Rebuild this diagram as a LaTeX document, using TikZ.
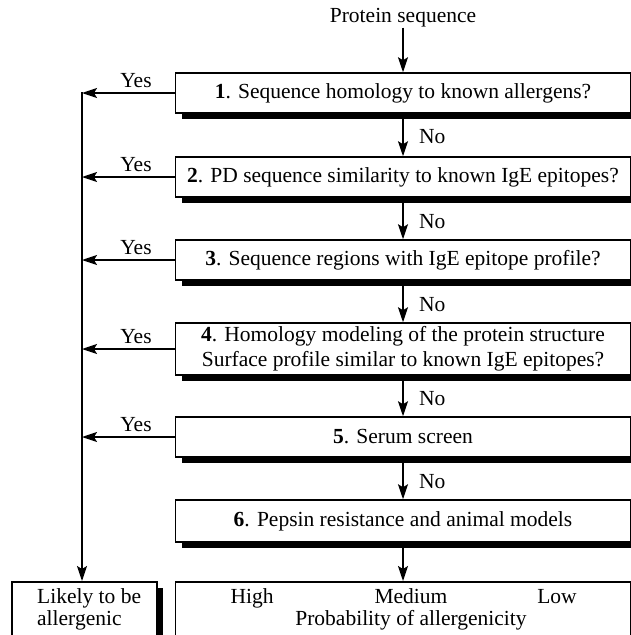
\documentclass[tikz,border=0pt]{standalone}
\usepackage{fontspec}
\setmainfont{Liberation Serif}
\usetikzlibrary{arrows.meta,shadows}
\begin{document}
\begin{tikzpicture}[x=1pt,y=-1pt,
  box/.style={draw=black, line width=1.5pt, fill=white, minimum width=455pt, inner sep=0pt,
    drop shadow={shadow xshift=6pt, shadow yshift=-6pt, fill=black, opacity=1},
    font=\fontsize{21.5}{25}\selectfont, align=center},
  lbl/.style={font=\fontsize{21.5}{25}\selectfont, inner sep=0pt},
  arr/.style={line width=1.5pt, -{Stealth[length=15pt,width=10pt,inset=3pt]}}
]
\useasboundingbox (0,0) rectangle (631,635);
\clip (0,0) rectangle (631,635);
\fill[white] (0,0) rectangle (631,635);

\node[lbl] (src) at (403,18) {Protein sequence};
\node[box, minimum height=40pt] (b1) at (403,93) {\textbf{1}. Sequence homology to known allergens?};
\node[box, minimum height=40pt] (b2) at (403,177) {\textbf{2}. PD sequence similarity to known IgE epitopes?};
\node[box, minimum height=40pt] (b3) at (403,260) {\textbf{3}. Sequence regions with IgE epitope profile?};
\node[box, minimum height=52pt] (b4) at (403,349) {\textbf{4}. Homology modeling of the protein structure\\Surface profile similar to known IgE epitopes?};
\node[box, minimum height=40pt] (b5) at (403,437) {\textbf{5}. Serum screen};
\node[box, minimum height=42pt] (b6) at (403,521) {\textbf{6}. Pepsin resistance and animal models};

\node[box, minimum width=145pt, minimum height=70pt, anchor=north] (likely) at (84.5,581) {};
\node[box, minimum height=70pt, anchor=north] (prob) at (403,581) {};

\node[lbl, anchor=base west] (lk1) at (37,603) {Likely to be};
\node[lbl, anchor=base west] (lk2) at (37,625) {allergenic};
\node[lbl, anchor=base] (hi) at (252,603) {High};
\node[lbl, anchor=base] (me) at (411,603) {Medium};
\node[lbl, anchor=base] (lo) at (557,603) {Low};
\node[lbl, anchor=base] (pr) at (411,625) {Probability of allergenicity};

% main column
\draw[arr] (src) -- (b1.north);
\draw[arr] (b1.south) -- (b2.north);
\draw[arr] (b2.south) -- (b3.north);
\draw[arr] (b3.south) -- (b4.north);
\draw[arr] (b4.south) -- (b5.north);
\draw[arr] (b5.south) -- (b6.north);
\draw[arr] (b6.south) -- (prob.north);

\node[lbl, anchor=base west] (no1) at (419,143) {No};
\node[lbl, anchor=base west] (no2) at (419,228) {No};
\node[lbl, anchor=base west] (no3) at (419,311) {No};
\node[lbl, anchor=base west] (no4) at (419,405) {No};
\node[lbl, anchor=base west] (no5) at (419,488) {No};

% yes side
\coordinate (spine) at (82,92);
\draw[arr] (spine) -- (spine |- likely.north);
\foreach \b in {b1,b2,b3,b4,b5}{
  \draw[arr] (\b.west) -- (\b.west -| spine);
  \node[lbl, anchor=base] at ([yshift=6pt] \b.west -| 136,0) {Yes};
}
\end{tikzpicture}
\end{document}
